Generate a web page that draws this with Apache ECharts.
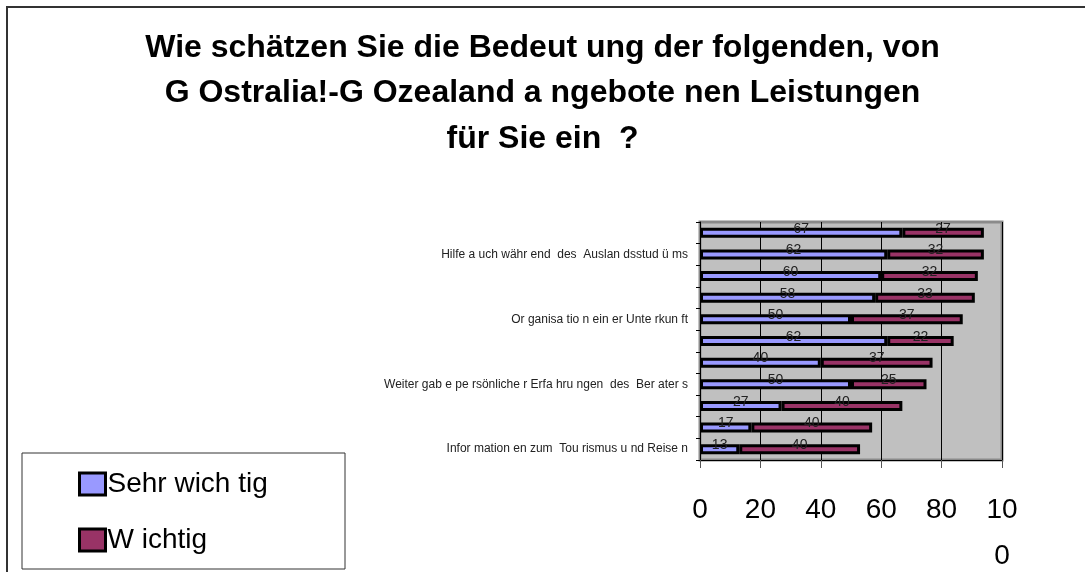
<!DOCTYPE html>
<html>
<head>
<meta charset="utf-8">
<script src="https://cdn.jsdelivr.net/npm/echarts@6/dist/echarts.min.js"></script>
<style>html,body{margin:0;padding:0;background:#fff}#c{width:1085px;height:572px}</style>
</head>
<body>
<div id="c"></div>
<script>
// Categories top to bottom (only every third label is visible in the reference)
const categories = [
  "",
  "Hilfe a uch währ end  des  Auslan dsstud ü ms",
  " ",
  "  ",
  "Or ganisa tio n ein er Unte rkun ft",
  "   ",
  "    ",
  "Weiter gab e pe rsönliche r Erfa hru ngen  des  Ber ater s",
  "     ",
  "      ",
  "Infor mation en zum  Tou rismus u nd Reise n"
];
const seriesNames = ["Sehr wich tig", "W ichtig"];
const sehrWichtig = [67, 62, 60, 58, 50, 62, 40, 50, 27, 17, 13];
const wichtig     = [27, 32, 32, 33, 37, 22, 37, 25, 40, 40, 40];
const xTicks = [0, 20, 40, 60, 80, 100];
const titleText = "Wie schätzen Sie die Bedeut ung der folgenden, von\nG Ostralia!-G Ozealand a ngebote nen Leistungen\nfür Sie ein  ?";

const chart = echarts.init(document.getElementById('c'));
const FONT = '"Liberation Sans", Arial, sans-serif';
const barStyle = (color) => ({ color: color, borderColor: '#000', borderWidth: 3 });
const lbl = {
  show: true, position: 'inside', color: '#222', fontSize: 14,
  fontFamily: FONT, offset: [0, -4]
};
chart.setOption({
  animation: false,
  textStyle: { fontFamily: FONT },
  title: {
    text: titleText, left: 'center', top: 20,
    textStyle: { fontSize: 32, fontWeight: 'bold', color: '#000', lineHeight: 45.5, fontFamily: FONT }
  },
  graphic: [
    { type: 'rect', z: 0, shape: { x: 7, y: 7, width: 1100, height: 600 },
      style: { fill: null, stroke: '#333', lineWidth: 2 } },
    { type: 'rect', z: 1, shape: { x: 22, y: 453, width: 323, height: 116 },
      style: { fill: '#fff', stroke: '#333', lineWidth: 1 } }
  ],
  legend: {
    orient: 'vertical', left: 78, top: 470, itemGap: 28, padding: 0,
    itemWidth: 26, itemHeight: 22, icon: 'rect',
    itemStyle: { borderColor: '#000', borderWidth: 3 },
    textStyle: { fontSize: 28, color: '#000', fontFamily: FONT, padding: [0, 0, 0, -3] },
    data: seriesNames
  },
  grid: {
    left: 700, right: 83, top: 222, bottom: 112, outerBoundsMode: 'none', containLabel: false,
    show: true, backgroundColor: '#c0c0c0', borderColor: '#8a8a8a', borderWidth: 3
  },
  xAxis: {
    type: 'value', min: 0, max: 100, interval: 20,
    axisLine: { show: true, lineStyle: { color: '#000', width: 1 } },
    axisTick: { show: true, length: 8, lineStyle: { color: '#555' } },
    splitLine: { show: true, lineStyle: { color: '#000', width: 1 } },
    axisLabel: {
      fontSize: 28, color: '#000', margin: 27, lineHeight: 46, fontFamily: FONT,
      formatter: v => (xTicks.indexOf(v) >= 0 ? (v === 100 ? '10\n0' : String(v)) : '')
    }
  },
  yAxis: {
    type: 'category', inverse: true, data: categories,
    axisLine: { show: true, lineStyle: { color: '#000', width: 1 } },
    axisTick: { show: true, length: 4, interval: 0, lineStyle: { color: '#000' } },
    axisLabel: {
      fontSize: 12, color: '#222', margin: 12, fontFamily: FONT,
      interval: (i) => i % 3 === 1
    }
  },
  series: [
    { name: seriesNames[0], type: 'bar', stack: 's', barWidth: 10,
      itemStyle: barStyle('#9999ff'), label: lbl, data: sehrWichtig },
    { name: seriesNames[1], type: 'bar', stack: 's', barWidth: 10,
      itemStyle: barStyle('#993366'), label: lbl, data: wichtig }
  ]
});
</script>
</body>
</html>
